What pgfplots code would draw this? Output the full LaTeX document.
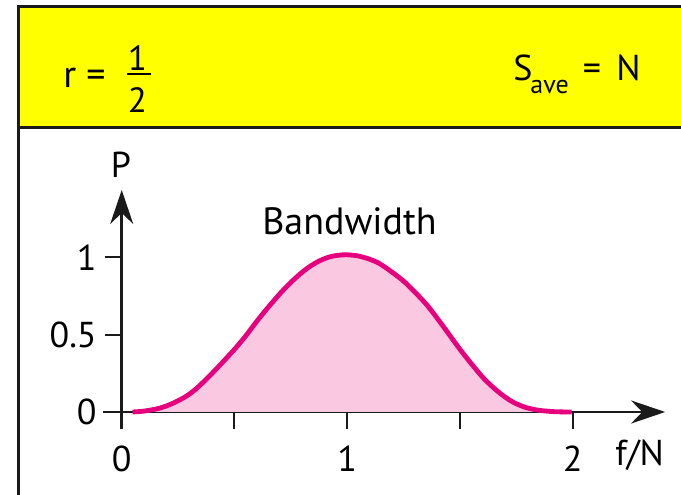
\documentclass[border=0pt]{standalone}
\usepackage{fontspec}
\setmainfont{PT Sans}
\usepackage{pgfplots}
\usepackage{pgfplotstable}
\pgfplotsset{compat=1.18}
\usetikzlibrary{arrows.meta}
\definecolor{HeadYellow}{HTML}{FFFF00}
\definecolor{CurveMag}{HTML}{E6007E}
\definecolor{CurveFill}{HTML}{FAC8E0}
\definecolor{FrameBlk}{HTML}{1A1A1A}

% power spectrum
\pgfplotstableread{
f      P
0.048  0.000
0.100  0.006
0.166  0.024
0.220  0.052
0.283  0.099
0.330  0.150
0.384  0.225
0.440  0.310
0.500  0.405
0.550  0.492
0.601  0.590
0.660  0.695
0.717  0.789
0.770  0.865
0.819  0.925
0.870  0.972
0.920  1.002
0.960  1.013
1.000  1.016
1.060  1.005
1.140  0.962
1.240  0.858
1.300  0.775
1.360  0.680
1.430  0.545
1.500  0.405
1.560  0.295
1.610  0.210
1.670  0.130
1.730  0.068
1.790  0.030
1.850  0.011
1.920  0.002
1.995  0.000
}\spectrum

\begin{document}
\begin{tikzpicture}[lbl/.style={font=\fontsize{18}{20}\selectfont,inner sep=0pt,text=black}]
\path[use as bounding box] (0,0) rectangle (340.5pt,-247pt);
% header band and frame
\fill[HeadYellow] (9.15pt,-3.25pt) rectangle (341pt,-63.75pt);
\draw[FrameBlk,line width=1.5pt] (341pt,-3.25pt) -- (9.15pt,-3.25pt) -- (9.15pt,-248pt);
\draw[FrameBlk,line width=1.5pt] (9.15pt,-63.75pt) -- (341pt,-63.75pt);

\node[lbl,font=\fontsize{19}{21}\selectfont,anchor=base west] at (31.5pt,-43.5pt) {r =};
\node[lbl,font=\fontsize{17.5}{19}\selectfont,anchor=base] at (68.75pt,-35pt) {1};
\node[lbl,font=\fontsize{17.5}{19}\selectfont,anchor=base] at (68.75pt,-56pt) {2};
\draw[black,line width=1pt] (63.5pt,-37.2pt) -- (75.5pt,-37.2pt);

\node[lbl,anchor=base west] at (256.5pt,-40pt) {S};
\node[lbl,font=\fontsize{13}{15}\selectfont,anchor=base west] at (265pt,-46.5pt) {ave};
\node[lbl,anchor=base] at (296pt,-40pt) {=};
\node[lbl,anchor=base west] at (308pt,-40pt) {N};

\begin{axis}[
  at={(51.5pt,-214.5pt)}, anchor=south west,
  x=112.75pt, y=77.35pt,
  xmin=-0.083, xmax=2.41, ymin=-0.11, ymax=1.435,
  clip=false,
  axis lines=middle,
  axis line style={FrameBlk,line width=1.3pt},
  every inner x axis line/.append style={-{Stealth[length=17pt,width=11.5pt]}},
  every inner y axis line/.append style={-{Stealth[length=17pt,width=11.5pt]}},
  xtick={0,0.5,1,1.5,2}, ytick={0,0.5,1},
  xticklabels={,,,,}, yticklabels={,,},
  tick align=outside, major tick length=8.5pt,
  tick style={FrameBlk,line width=1pt},
]
\addplot[fill=CurveFill,draw=none,smooth] table[x=f,y=P] {\spectrum} \closedcycle;
\addplot[CurveMag,line width=2.4pt,smooth] table[x=f,y=P] {\spectrum};

\node[lbl,anchor=east] at (axis cs:0,0) [xshift=-12.35pt] {0};
\node[lbl,anchor=east] at (axis cs:0,0.5) [xshift=-12.35pt] {0.5};
\node[lbl,anchor=east] at (axis cs:0,1) [xshift=-12.35pt] {1};
\node[lbl,anchor=center] at (axis cs:0,0) [yshift=-23.5pt] {0};
\node[lbl,anchor=center] at (axis cs:1,0) [yshift=-23.5pt] {1};
\node[lbl,anchor=center] at (axis cs:2,0) [yshift=-23.5pt] {2};
\end{axis}

\node[lbl,anchor=base] at (60.5pt,-88.5pt) {P};
\node[lbl,anchor=center] at (319.75pt,-227.5pt) {f/N};
\node[lbl,font=\fontsize{19}{21}\selectfont,anchor=center] at (174.75pt,-110.5pt) {Bandwidth};
\end{tikzpicture}
\end{document}
